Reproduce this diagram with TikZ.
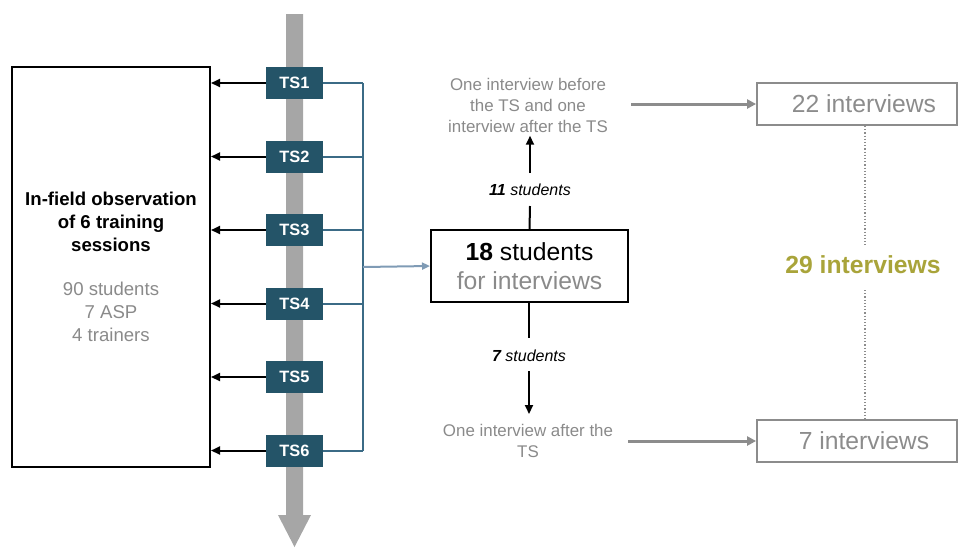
\documentclass[tikz,border=0pt]{standalone}
\usepackage{fontspec}
\setmainfont{Liberation Sans}
\usetikzlibrary{arrows.meta}
\definecolor{tsfill}{HTML}{245468}
\definecolor{tsline}{HTML}{3B6B86}
\definecolor{bluegray}{HTML}{7F9BB5}
\definecolor{txtgray}{HTML}{8A8A8A}
\definecolor{boxgray}{HTML}{8C8C8C}
\definecolor{olive}{HTML}{A9A43A}
\definecolor{shaft}{HTML}{A6A6A6}
\tikzset{
  tsbox/.style={fill=tsfill, text=white, font=\bfseries\fontsize{16.4}{18}\selectfont,
    minimum width=57pt, minimum height=32pt, inner sep=0pt},
  blkarrow/.style={draw=black, line width=2pt, -{Triangle[length=9pt,width=8pt]}},
  tsconn/.style={draw=tsline, line width=2pt},
  grayarrow/.style={draw=boxgray, line width=3pt, -{Triangle[length=9pt,width=9pt]}},
  graybox/.style={draw=boxgray, line width=1.8pt, minimum width=200pt, minimum height=42pt, inner sep=0pt},
  smalltxt/.style={text=txtgray, align=center, font=\fontsize{16.9}{21}\selectfont},
  bigtxt/.style={font=\fontsize{24.7}{29}\selectfont},
  boldbig/.style={font=\bfseries\fontsize{24.7}{29}\selectfont},
  lbl/.style={font=\itshape\fontsize{16}{18}\selectfont},
}
\begin{document}
\begin{tikzpicture}[x=1pt,y=-1pt]
\useasboundingbox (0,0) rectangle (960,547);
% timeline arrow
\fill[shaft] (286,14) -- (303,14) -- (303,515) -- (311,515) -- (294.5,547) -- (278,515) -- (286,515) -- cycle;
% left box
\node[draw=black, line width=2pt, minimum width=198pt, minimum height=400pt, inner sep=0pt] (obs) at (111,267) {};
\node[align=center, font=\bfseries\fontsize{18.6}{23}\selectfont] (obstitle) at (111,222) {In-field observation\\of 6 training\\sessions};
\node[align=center, text=txtgray, font=\fontsize{18.6}{23}\selectfont] (obsinfo) at (111,312) {90 students\\7 ASP\\4 trainers};
% TS boxes
\foreach \i/\y in {1/83,2/156.5,3/230,4/303.5,5/377,6/450.5}{
  \node[tsbox] (ts\i) at (294.5,\y) {TS\i};
  \draw[blkarrow] (ts\i.west) -- (obs.east |- ts\i);
}
\coordinate (bustop) at (363,83);
\coordinate (busbot) at (363,450.5);
\coordinate (busmid) at (363,267);
\foreach \i in {1,2,3,4,6}{
  \draw[tsconn] (ts\i.east) -- (bustop |- ts\i);
}
\draw[tsconn] (bustop) -- (busbot);
% 18 students box
\node[draw=black, line width=2pt, minimum width=197pt, minimum height=72pt, inner sep=0pt, align=center,
  font=\fontsize{24.7}{29}\selectfont] (stud) at (529.5,266) {\textbf{18} students\\\textcolor{txtgray}{for interviews}};
\draw[draw=bluegray, line width=2pt, -{Triangle[length=8pt,width=7pt]}] (busmid) -- (stud.west);
% upper branch
\node[lbl] (l11) at (530,190) {\textbf{11} students};
\node[smalltxt] (before) at (528,105) {One interview before\\the TS and one\\interview after the TS};
\coordinate (up1) at (530,206);
\coordinate (up2) at (530,173);
\draw[black, line width=2pt] (stud.north) -- (up1);
\draw[blkarrow] (up2) -- (before.south -| up2);
% lower branch
\node[lbl] (l7) at (529,356) {\textbf{7} students};
\node[smalltxt] (after) at (528,441) {One interview after the\\TS};
\coordinate (dn1) at (529,338);
\coordinate (dn2) at (529,371);
\draw[black, line width=2pt] (stud.south -| dn1) -- (dn1);
\draw[blkarrow] (dn2) -- (529,414);
% right boxes
\node[graybox] (b22) at (857,104) {};
\node[bigtxt, text=boxgray] (t22) at (864,104) {22 interviews};
\node[graybox] (b7) at (857,441) {};
\node[bigtxt, text=boxgray] (t7) at (864,441) {7 interviews};
\draw[grayarrow] ([xshift=20pt]before.east |- b22) -- (b22.west);
\draw[grayarrow] (628,441) -- (b7.west);
% total
\node[boldbig, text=olive] (tot) at (863,265) {29 interviews};
\draw[boxgray, line width=1.2pt, dotted] (b22.south -| 865,0) -- (865,245);
\draw[boxgray, line width=1.2pt, dotted] (865,290) -- (b7.north -| 865,0);
\end{tikzpicture}
\end{document}
